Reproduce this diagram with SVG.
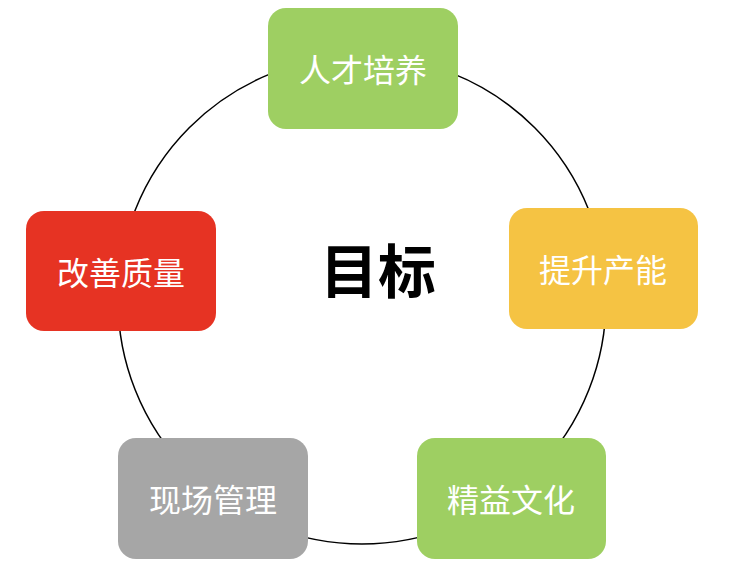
<svg xmlns="http://www.w3.org/2000/svg" width="730" height="578" viewBox="0 0 730 578">
<style>
.b{stroke:none}
.t{font-family:"Noto Sans CJK SC","Noto Sans",sans-serif;font-size:32px;fill:#fff;text-anchor:middle;dominant-baseline:central}
</style>
<rect width="730" height="578" fill="#fff"/>
<g id="connectors"><circle cx="362" cy="300" r="244" fill="none" stroke="#000" stroke-width="1.5"/></g>
<g id="center"><text x="378" y="268" style="font-family:'Noto Sans CJK SC',sans-serif;font-size:58px;font-weight:bold;text-anchor:middle;dominant-baseline:central">目标</text></g>
<g id="n1"><rect class="b" x="268" y="8" width="190" height="121" rx="18" fill="#9ECF62"/><text class="t" x="363" y="68">人才培养</text></g>
<g id="n2"><rect class="b" x="509" y="208" width="189" height="121" rx="18" fill="#F5C343"/><text class="t" x="603" y="268">提升产能</text></g>
<g id="n3"><rect class="b" x="417" y="438" width="189" height="121" rx="18" fill="#9ECF62"/><text class="t" x="511" y="498">精益文化</text></g>
<g id="n4"><rect class="b" x="118" y="438" width="190" height="121" rx="18" fill="#A6A6A6"/><text class="t" x="213" y="498">现场管理</text></g>
<g id="n5"><rect class="b" x="26" y="211" width="190" height="120" rx="18" fill="#E63323"/><text class="t" x="121" y="271">改善质量</text></g>
</svg>
